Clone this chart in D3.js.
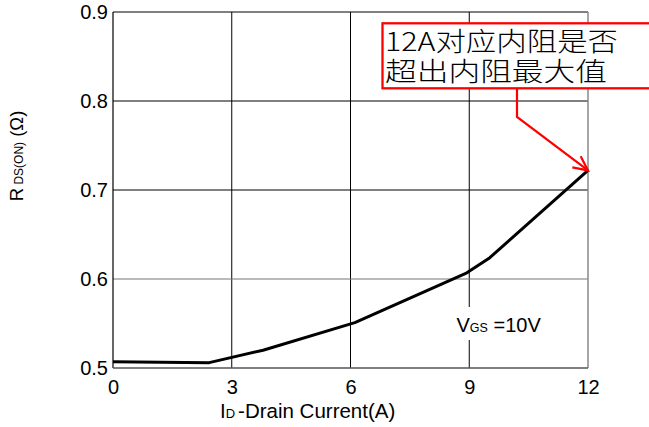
<!DOCTYPE html>
<html><head><meta charset="utf-8">
<script src="https://cdn.jsdelivr.net/npm/d3@7"></script>
<style>html,body{margin:0;padding:0;background:#fff;}svg{display:block;}</style>
</head><body>
<svg id="c" width="649" height="427"></svg>
<script>
const xTicks = [0, 3, 6, 9, 12];
const yTicks = [0.5, 0.6, 0.7, 0.8, 0.9];
const currentA = [0, 2.43, 3.79, 6.11, 8.94, 9.52, 12];
const rdsOhm = [0.507, 0.506, 0.520, 0.551, 0.607, 0.624, 0.722];
const noteLines = ["12A对应内阻是否", "超出内阻最大值"];

const svg = d3.select("#c");
const L = 113, R = 588, T = 12, B = 368;
const x = d3.scaleLinear().domain([0, 12]).range([L, R]);
const y = d3.scaleLinear().domain([0.5, 0.9]).range([B, T]);
const font = "'Liberation Sans', Arial, sans-serif";

// grid
const g = svg.append("g");
[3, 6].forEach(v => g.append("line").attr("x1", x(v)).attr("x2", x(v)).attr("y1", T).attr("y2", B).attr("stroke", "#000").attr("stroke-width", 1));
g.append("line").attr("x1", x(9)).attr("x2", x(9)).attr("y1", T).attr("y2", 307).attr("stroke", "#000").attr("stroke-width", 1);
g.append("line").attr("x1", x(9)).attr("x2", x(9)).attr("y1", 340).attr("y2", B).attr("stroke", "#000").attr("stroke-width", 1);
[0.7, 0.8].forEach(v => g.append("line").attr("x1", L).attr("x2", R).attr("y1", y(v)).attr("y2", y(v)).attr("stroke", "#000").attr("stroke-width", 1));
g.append("line").attr("x1", L).attr("x2", R).attr("y1", y(0.6)).attr("y2", y(0.6)).attr("stroke", "#777").attr("stroke-width", 1.2);

// frame
svg.append("line").attr("x1", L).attr("x2", R).attr("y1", T).attr("y2", T).attr("stroke", "#000");
svg.append("line").attr("x1", L).attr("x2", L).attr("y1", T).attr("y2", B).attr("stroke", "#000").attr("stroke-width", 1.2);
svg.append("line").attr("x1", R).attr("x2", R).attr("y1", T).attr("y2", B).attr("stroke", "#888").attr("stroke-width", 1.5);
svg.append("line").attr("x1", L).attr("x2", R).attr("y1", B).attr("y2", B).attr("stroke", "#555").attr("stroke-width", 1.5);

// curve
svg.append("path")
  .datum(currentA.map((d, i) => [d, rdsOhm[i]]))
  .attr("fill", "none").attr("stroke", "#000").attr("stroke-width", 3).attr("stroke-linejoin", "round")
  .attr("d", d3.line().x(d => x(d[0])).y(d => y(d[1])));

// axes
const ax = svg.append("g").attr("transform", `translate(0,${B})`)
  .call(d3.axisBottom(x).tickValues(xTicks).tickSize(0).tickPadding(12).tickFormat(d3.format("d")));
ax.select(".domain").remove();
ax.selectAll("text").attr("font-family", font).attr("font-size", 20).attr("fill", "#000");

const ay = svg.append("g").attr("transform", `translate(${L},0)`)
  .call(d3.axisLeft(y).tickValues(yTicks).tickSize(0).tickPadding(5).tickFormat(d3.format(".1f")));
ay.select(".domain").remove();
ay.selectAll("text").attr("font-family", font).attr("font-size", 20).attr("fill", "#000");

// x label
const xl = svg.append("text").attr("x", 220).attr("y", 418).attr("font-family", font).attr("font-size", 20.5).attr("fill", "#000");
xl.append("tspan").text("I");
xl.append("tspan").attr("font-size", 13).text("D");
xl.append("tspan").attr("dx", 3).text("-Drain Current(A)");

// y label
const yl = svg.append("text").attr("transform", "translate(23,156) rotate(-90)").attr("text-anchor", "middle")
  .attr("font-family", font).attr("font-size", 18.5).attr("fill", "#000");
yl.append("tspan").text("R");
yl.append("tspan").attr("font-size", 12).text(" DS(ON)");
yl.append("tspan").text(" (Ω)");

// VGS label
const vl = svg.append("text").attr("x", 456.5).attr("y", 332).attr("font-family", font).attr("font-size", 20).attr("fill", "#000");
vl.append("tspan").text("V");
vl.append("tspan").attr("font-size", 12.5).text("GS");
vl.append("tspan").text(" =10V");

// annotation
svg.append("rect").attr("x", 382.5).attr("y", 23.3).attr("width", 300).attr("height", 65)
  .attr("fill", "#fff").attr("stroke", "#f00").attr("stroke-width", 2.3);
const cjk = "'Noto Sans CJK SC', sans-serif";
const lens = [233, 222];
const note = svg.append("text").attr("font-family", cjk).attr("font-size", 26).attr("font-weight", 300).attr("fill", "#000");
noteLines.forEach((t, i) => {
  note.append("tspan").attr("x", 385).attr("y", 51 + i * 30)
    .attr("textLength", lens[i]).attr("lengthAdjust", "spacingAndGlyphs").text(t);
});
const tipX = x(12), tipY = y(0.722);
const kx = 517, ky = 117;
svg.append("path").attr("d", `M${kx},89 L${kx},${ky} L${tipX},${tipY}`)
  .attr("fill", "none").attr("stroke", "#f00").attr("stroke-width", 2.2);
const ang = Math.atan2(tipY - ky, tipX - kx);
const al = 16, spread = 0.45;
const a1 = [tipX - al * Math.cos(ang - spread), tipY - al * Math.sin(ang - spread)];
const a2 = [tipX - al * Math.cos(ang + spread), tipY - al * Math.sin(ang + spread)];
svg.append("path").attr("d", `M${a1[0]},${a1[1]} L${tipX},${tipY} L${a2[0]},${a2[1]}`)
  .attr("fill", "none").attr("stroke", "#f00").attr("stroke-width", 2.2);
</script>
</body></html>
